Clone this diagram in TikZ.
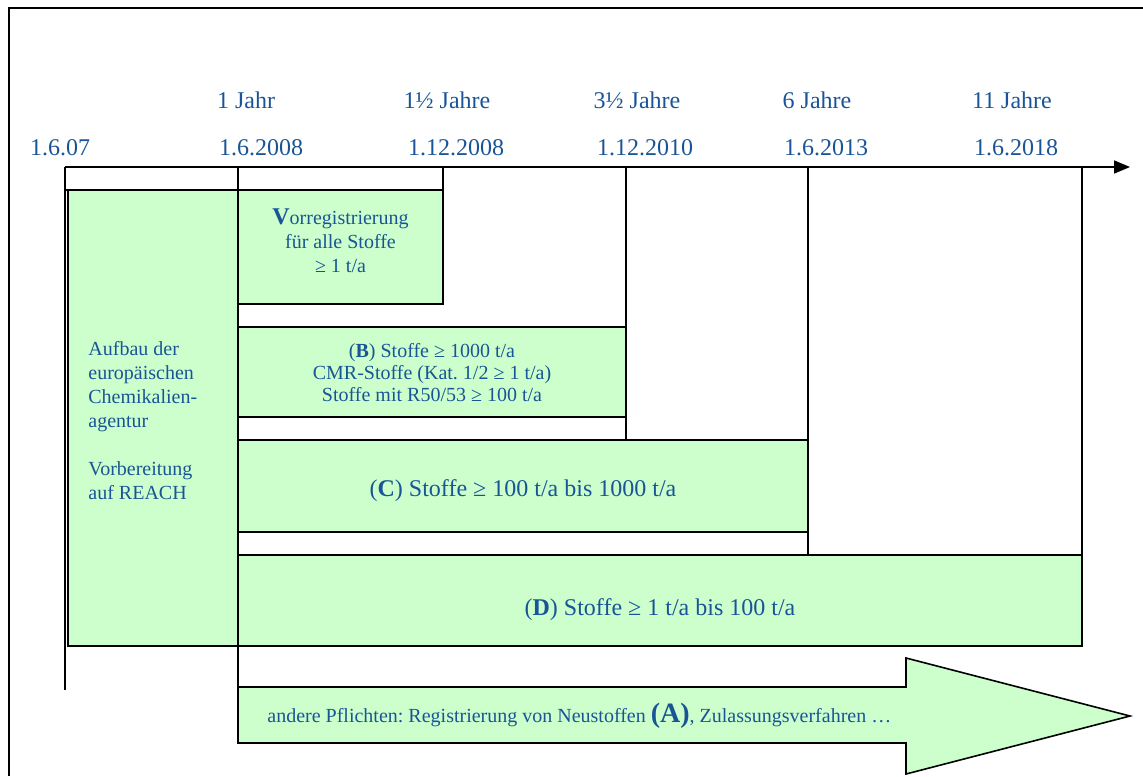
\documentclass[tikz,border=0pt]{standalone}
\usepackage{fontspec}
\setmainfont{Liberation Serif}
\usepackage{tikz}
\usetikzlibrary{arrows.meta,positioning}
\definecolor{reachgreen}{RGB}{204,255,204}
\definecolor{reachblue}{RGB}{25,85,150}
\frenchspacing

\tikzset{
  fach/.style={draw, fill=reachgreen, line width=0.8pt,
               inner sep=0pt, outer sep=0pt, anchor=north west},
  fachtext/.style={font=\fontsize{10}{12}\selectfont, text=reachblue,
                   align=center, inner sep=0pt},
  zeit/.style={font=\fontsize{12}{14}\selectfont, text=reachblue, anchor=base},
  strich/.style={line width=0.8pt}
}

\begin{document}
\begin{tikzpicture}[x=0.5pt, y=-0.5pt]
  \useasboundingbox (0,0) rectangle (1143,776);
  % Rahmen
  \draw[line width=1pt] (1143,8) -- (9,8) -- (9,776);

  % Zeitpunkte auf der Achse
  \coordinate (t0) at (65,167);
  \coordinate (t1) at (238,167);
  \coordinate (t2) at (443,167);
  \coordinate (t3) at (626,167);
  \coordinate (t4) at (808,167);
  \coordinate (t5) at (1082,167);
  \coordinate (tend) at (1130,167);
  \coordinate (pfeilanfang) at (238,687);

  \foreach \t/\x/\n in {1 Jahr/246/j1, 1½ Jahre/447/j2, 3½ Jahre/637/j3,
                        6 Jahre/817/j4, 11 Jahre/1012/j5}{
    \node[zeit] (\n) at (\x,108) {\t};
  }
  \foreach \t/\x/\n in {1.6.07/60/d0, 1.6.2008/261/d1, 1.12.2008/456/d2,
                        1.12.2010/645/d3, 1.6.2013/826/d4, 1.6.2018/1016/d5}{
    \node[zeit] (\n) at (\x,155) {\t};
  }

  % Felder
  \node[fach, minimum width=85pt, minimum height=228pt] (agentur) at (68,190) {};
  \node[fachtext, align=left, anchor=west] (agenturtext) at (88,421)
    {Aufbau der\\europäischen\\Chemikalien-\\agentur\\[12pt]Vorbereitung\\auf REACH};

  \node[fach, minimum width=102.5pt, minimum height=57pt] (vor) at (238,190) {};
  \node[fachtext] (vortext) at (340.5,241)
    {{\fontsize{12}{12}\selectfont\bfseries V}orregistrierung\\für alle Stoffe\\≥ 1 t/a};

  \node[fach, minimum width=194pt, minimum height=45pt] (bbox) at (238,327) {};
  \node[fachtext, font=\fontsize{10}{11}\selectfont] (btext) at (432,373)
    {(\textbf{B}) Stoffe ≥ 1000 t/a\\CMR-Stoffe (Kat. 1/2 ≥ 1 t/a)\\Stoffe mit R50/53 ≥ 100 t/a};

  \node[fach, minimum width=285pt, minimum height=46pt] (cbox) at (238,440) {};
  \node[fachtext, font=\fontsize{12}{14}\selectfont] (ctext) at (523,491)
    {(\textbf{C}) Stoffe ≥ 100 t/a bis 1000 t/a};

  \node[fach, minimum width=422pt, minimum height=45.5pt] (dbox) at (238,555) {};
  \node[fachtext, font=\fontsize{12}{14}\selectfont] (dtext) at (660,610)
    {(\textbf{D}) Stoffe ≥ 1 t/a bis 100 t/a};

  % senkrechte Striche
  \draw[strich] (t0) -- (t0 |- 0,690);
  \draw[strich] (t0 |- agentur.north) -- (agentur.north west);
  \draw[strich] (t1) -- (pfeilanfang);
  \draw[strich] (t2) -- (t2 |- vor.south);
  \draw[strich] (t3) -- (t3 |- cbox.north);
  \draw[strich] (t4) -- (t4 |- dbox.north);
  \draw[strich] (t5) -- (dbox.north east);

  % Zeitachse
  \draw[strich, -{Triangle[length=8pt, width=6.5pt]}] (t0) -- (tend);

  % Pfeil unten
  \draw[line width=0.8pt, fill=reachgreen] (pfeilanfang) -- (906,687) -- (906,658)
    -- (1130,716) -- (906,774) -- (906,743) -- (238,743) -- cycle;
  \node[fachtext, anchor=base west] (pflichten) at (267,722)
    {andere Pflichten: Registrierung von Neustoffen
     {\fontsize{14}{14}\selectfont\bfseries (A)}, Zulassungsverfahren …};
\end{tikzpicture}
\end{document}
